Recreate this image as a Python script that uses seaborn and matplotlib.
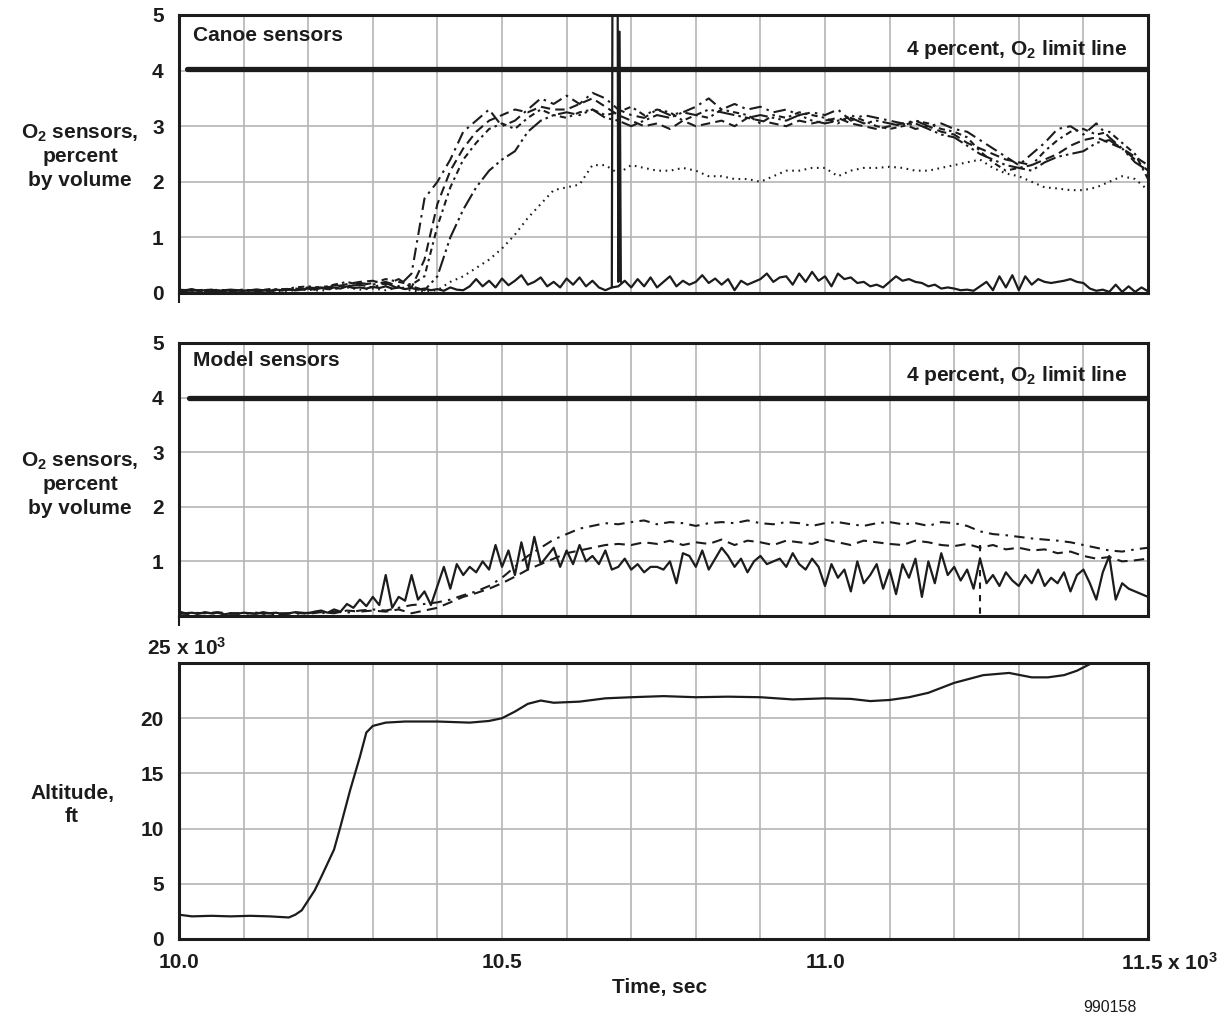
import numpy as np
import matplotlib
matplotlib.use("Agg")
import matplotlib.pyplot as plt
from matplotlib.ticker import MultipleLocator
import seaborn as sns

# ---------------- data ----------------
t_fine = np.round(np.arange(10.0, 11.5001, 0.01), 2)     # sample times (x 10^3 sec)
t_coarse = np.round(np.arange(10.0, 11.5001, 0.02), 2)

canoe_solid = [
    0.06, 0.05, 0.07, 0.04, 0.05, 0.06, 0.04, 0.05, 0.06, 0.05,
    0.04, 0.05, 0.06, 0.05, 0.04, 0.06, 0.05, 0.07, 0.05, 0.06,
    0.08, 0.06, 0.09, 0.07, 0.10, 0.08, 0.12, 0.09, 0.10, 0.08,
    0.11, 0.09, 0.12, 0.08, 0.10, 0.07, 0.09, 0.06, 0.08, 0.05,
    0.07, 0.04, 0.10, 0.06, 0.05, 0.12, 0.25, 0.12, 0.22, 0.10,
    0.26, 0.14, 0.22, 0.32, 0.15, 0.20, 0.28, 0.12, 0.20, 0.10,
    0.26, 0.15, 0.28, 0.12, 0.22, 0.10, 0.05, 0.10, 0.12, 0.22,
    0.10, 0.25, 0.12, 0.28, 0.10, 0.20, 0.30, 0.12, 0.22, 0.15,
    0.20, 0.32, 0.18, 0.26, 0.15, 0.25, 0.05, 0.22, 0.15, 0.20,
    0.25, 0.35, 0.20, 0.28, 0.30, 0.15, 0.35, 0.20, 0.38, 0.22,
    0.30, 0.12, 0.35, 0.25, 0.28, 0.18, 0.20, 0.12, 0.15, 0.10,
    0.20, 0.30, 0.22, 0.25, 0.20, 0.18, 0.12, 0.15, 0.08, 0.10,
    0.08, 0.05, 0.06, 0.04, 0.12, 0.20, 0.05, 0.30, 0.10, 0.32,
    0.05, 0.30, 0.15, 0.25, 0.20, 0.18, 0.20, 0.22, 0.25, 0.20,
    0.18, 0.08, 0.04, 0.06, 0.02, 0.15, 0.02, 0.12, 0.02, 0.10,
    0.03]
canoe_spike_t = [10.670, 10.671, 10.679, 10.680, 10.682, 10.684]
canoe_spike_v = [0.10, 5.60, 5.60, 0.20, 4.70, 0.20]

canoe_a = [
    0.04, 0.05, 0.03, 0.06, 0.04, 0.05, 0.03, 0.06, 0.05, 0.07,
    0.10, 0.08, 0.14, 0.12, 0.18, 0.15, 0.20, 0.12, 0.35, 1.70,
    2.00, 2.40, 2.90, 3.10, 3.30, 3.00, 3.10, 3.30, 3.50, 3.40,
    3.55, 3.40, 3.60, 3.50, 3.30, 3.20, 3.15, 3.30, 3.20, 3.25,
    3.35, 3.50, 3.30, 3.40, 3.30, 3.35, 3.25, 3.30, 3.20, 3.25,
    3.20, 3.30, 3.10, 3.20, 3.15, 3.10, 3.05, 3.10, 3.00, 3.05,
    2.95, 2.90, 2.75, 2.60, 2.45, 2.30, 2.50, 2.70, 2.95, 3.00,
    2.85, 3.05, 2.80, 2.60, 2.40, 2.20]
canoe_b = [
    0.03, 0.05, 0.04, 0.03, 0.05, 0.04, 0.06, 0.04, 0.05, 0.08,
    0.06, 0.12, 0.10, 0.16, 0.20, 0.22, 0.15, 0.25, 0.10, 0.60,
    1.60, 2.20, 2.60, 2.90, 3.10, 3.20, 3.30, 3.25, 3.35, 3.30,
    3.30, 3.40, 3.50, 3.35, 3.20, 3.10, 3.00, 3.05, 2.95, 3.10,
    3.00, 3.05, 3.10, 3.00, 3.15, 3.10, 3.05, 3.00, 3.10, 3.05,
    3.10, 3.15, 3.05, 3.00, 2.95, 3.00, 3.05, 2.95, 3.00, 2.90,
    2.85, 2.70, 2.60, 2.50, 2.40, 2.35, 2.30, 2.40, 2.50, 2.65,
    2.75, 2.80, 2.70, 2.60, 2.45, 2.30]
canoe_c = [
    0.05, 0.04, 0.06, 0.03, 0.05, 0.06, 0.04, 0.05, 0.07, 0.05,
    0.08, 0.10, 0.07, 0.12, 0.15, 0.10, 0.18, 0.08, 0.12, 0.05,
    0.30, 1.00, 1.50, 1.90, 2.20, 2.40, 2.55, 2.90, 3.10, 3.20,
    3.25, 3.20, 3.30, 3.15, 3.10, 3.00, 3.10, 3.20, 3.15, 3.25,
    3.20, 3.30, 3.25, 3.20, 3.15, 3.20, 3.15, 3.10, 3.20, 3.10,
    3.05, 3.10, 3.15, 3.05, 3.10, 3.05, 3.00, 3.05, 2.95, 2.85,
    2.80, 2.65, 2.50, 2.40, 2.30, 2.25, 2.20, 2.35, 2.45, 2.50,
    2.55, 2.70, 2.75, 2.60, 2.35, 2.20]
canoe_d = [
    0.05, 0.06, 0.04, 0.05, 0.03, 0.05, 0.04, 0.07, 0.06, 0.10,
    0.12, 0.09, 0.15, 0.20, 0.14, 0.18, 0.25, 0.20, 0.15, 0.30,
    1.20, 1.90, 2.40, 2.70, 2.95, 3.05, 2.95, 3.15, 3.30, 3.20,
    3.15, 3.25, 3.30, 3.20, 3.25, 3.35, 3.20, 3.30, 3.25, 3.10,
    3.20, 3.15, 3.30, 3.25, 3.20, 3.05, 3.20, 3.15, 3.25, 3.20,
    3.15, 3.05, 3.20, 3.10, 3.00, 2.95, 3.00, 3.10, 3.05, 2.95,
    2.90, 2.80, 2.55, 2.35, 2.20, 2.25, 2.30, 2.55, 2.75, 2.90,
    2.95, 2.85, 2.90, 2.70, 2.50, 2.05]
canoe_dotted = [
    0.03, 0.02, 0.04, 0.03, 0.02, 0.03, 0.02, 0.04, 0.03, 0.05,
    0.06, 0.04, 0.08, 0.10, 0.06, 0.08, 0.05, 0.10, 0.04, 0.03,
    0.05, 0.20, 0.30, 0.45, 0.60, 0.80, 1.05, 1.35, 1.60, 1.85,
    1.90, 1.95, 2.30, 2.30, 2.15, 2.30, 2.25, 2.20, 2.20, 2.25,
    2.20, 2.10, 2.10, 2.05, 2.05, 2.00, 2.10, 2.20, 2.20, 2.25,
    2.25, 2.10, 2.20, 2.25, 2.25, 2.27, 2.25, 2.20, 2.20, 2.25,
    2.30, 2.35, 2.40, 2.25, 2.15, 2.10, 2.00, 1.90, 1.88, 1.85,
    1.85, 1.90, 2.00, 2.10, 2.05, 1.85]

model_solid = [
    0.08, 0.05, 0.06, 0.04, 0.07, 0.05, 0.06, 0.03, 0.05, 0.04,
    0.06, 0.05, 0.04, 0.07, 0.05, 0.06, 0.04, 0.05, 0.07, 0.06,
    0.05, 0.08, 0.10, 0.06, 0.12, 0.08, 0.22, 0.15, 0.30, 0.18,
    0.35, 0.20, 0.75, 0.15, 0.35, 0.28, 0.75, 0.30, 0.45, 0.20,
    0.55, 0.90, 0.50, 0.95, 0.75, 0.90, 0.80, 1.00, 0.85, 1.30,
    0.90, 1.20, 0.75, 1.35, 0.85, 1.45, 0.95, 1.10, 1.25, 0.90,
    1.20, 0.95, 1.30, 1.00, 1.10, 0.95, 1.20, 0.85, 0.90, 1.05,
    0.85, 0.95, 0.80, 0.90, 0.90, 0.85, 1.00, 0.60, 1.15, 1.10,
    0.90, 1.20, 0.85, 1.05, 1.25, 1.10, 0.90, 1.05, 0.80, 1.00,
    1.10, 0.95, 1.00, 1.05, 0.90, 1.15, 0.95, 0.85, 1.05, 0.90,
    0.55, 0.95, 0.70, 0.85, 0.45, 1.00, 0.60, 0.75, 0.95, 0.50,
    0.85, 0.40, 0.95, 0.70, 1.05, 0.35, 1.00, 0.60, 1.15, 0.75,
    0.90, 0.65, 0.85, 0.50, 1.05, 0.60, 0.75, 0.55, 0.80, 0.65,
    0.55, 0.75, 0.60, 0.85, 0.55, 0.70, 0.60, 0.80, 0.45, 0.75,
    0.85, 0.60, 0.30, 0.80, 1.10, 0.30, 0.60, 0.50, 0.45, 0.40,
    0.35]
model_dashdot = [
    0.05, 0.03, 0.06, 0.04, 0.05, 0.04, 0.06, 0.03, 0.05, 0.04,
    0.06, 0.05, 0.08, 0.06, 0.10, 0.12, 0.10, 0.15, 0.20, 0.22,
    0.25, 0.30, 0.38, 0.45, 0.55, 0.70, 0.90, 1.10, 1.25, 1.40,
    1.50, 1.60, 1.65, 1.70, 1.68, 1.72, 1.75, 1.68, 1.72, 1.70,
    1.65, 1.70, 1.72, 1.70, 1.75, 1.70, 1.68, 1.72, 1.70, 1.65,
    1.70, 1.72, 1.68, 1.65, 1.70, 1.72, 1.68, 1.70, 1.65, 1.72,
    1.70, 1.65, 1.55, 1.50, 1.48, 1.45, 1.42, 1.40, 1.38, 1.35,
    1.30, 1.25, 1.20, 1.18, 1.22, 1.25]
model_dashed = [
    0.04, 0.06, 0.05, 0.07, 0.04, 0.06, 0.04, 0.05, 0.03, 0.06,
    0.04, 0.07, 0.05, 0.10, 0.08, 0.10, 0.08, 0.12, 0.05, 0.10,
    0.15, 0.25, 0.35, 0.42, 0.50, 0.60, 0.72, 0.85, 0.95, 1.05,
    1.15, 1.20, 1.25, 1.30, 1.32, 1.30, 1.35, 1.32, 1.38, 1.30,
    1.35, 1.32, 1.40, 1.30, 1.38, 1.35, 1.30, 1.38, 1.35, 1.32,
    1.40, 1.35, 1.30, 1.38, 1.35, 1.32, 1.30, 1.38, 1.35, 1.30,
    1.28, 1.32, 1.25, 1.30, 1.22, 1.25, 1.20, 1.22, 1.15, 1.18,
    1.10, 1.05, 1.08, 1.00, 1.02, 1.05]
model_drop_t = [11.24, 11.24]
model_drop_v = [1.30, -0.10]

alt_t = [10.00, 10.02, 10.05, 10.08, 10.11, 10.14, 10.17, 10.18, 10.19, 10.20,
         10.21, 10.22, 10.24, 10.25, 10.265, 10.28, 10.29, 10.30, 10.32, 10.35,
         10.40, 10.45, 10.48, 10.50, 10.52, 10.54, 10.56, 10.58, 10.62, 10.66,
         10.70, 10.75, 10.80, 10.85, 10.90, 10.95, 11.00, 11.04, 11.07, 11.10,
         11.13, 11.16, 11.20, 11.245, 11.285, 11.32, 11.345, 11.37, 11.39, 11.41,
         11.43, 11.46]
alt_kft = [2.2, 2.05, 2.1, 2.05, 2.1, 2.05, 1.95, 2.2, 2.6, 3.5,
           4.4, 5.6, 8.1, 10.2, 13.5, 16.5, 18.7, 19.3, 19.6, 19.7,
           19.7, 19.6, 19.75, 20.0, 20.6, 21.3, 21.6, 21.4, 21.5, 21.8,
           21.9, 22.0, 21.9, 21.95, 21.9, 21.7, 21.8, 21.75, 21.55, 21.65,
           21.9, 22.3, 23.2, 23.9, 24.1, 23.7, 23.7, 23.9, 24.3, 24.9,
           25.6, 26.5]

# ---------------- style ----------------
sns.set_style("white")
plt.rcParams['font.family'] = ['Liberation Sans', 'DejaVu Sans']
plt.rcParams['font.weight'] = 'bold'
plt.rcParams['mathtext.fontset'] = 'custom'
plt.rcParams['mathtext.rm'] = 'Liberation Sans:bold'
plt.rcParams['mathtext.bf'] = 'Liberation Sans:bold'
plt.rcParams['mathtext.it'] = 'Liberation Sans:bold'

INK = '#1c1c1c'
GRID = '#b5b5b5'
FS = 15

W, H = 1231, 1017
fig = plt.figure(figsize=(W / 100, H / 100), dpi=100)


def add_ax(top_px, bot_px, left_px=179, right_px=1148):
    return fig.add_axes([left_px / W, 1 - bot_px / H,
                         (right_px - left_px) / W, (bot_px - top_px) / H])


ax1 = add_ax(15, 293)
ax2 = add_ax(343, 616)
ax3 = add_ax(663, 939)


def line(ax, x, y, ls='-', lw=1.5):
    sns.lineplot(x=list(x), y=list(y), ax=ax, color=INK, linestyle=ls,
                 linewidth=lw, estimator=None, sort=False, legend=False)


def frame(ax, ymax, ystep, yticklabels_vals):
    ax.set_xlim(10.0, 11.5)
    ax.set_ylim(0, ymax)
    ax.xaxis.set_minor_locator(MultipleLocator(0.1))
    ax.yaxis.set_major_locator(MultipleLocator(ystep))
    ax.grid(True, which='both', axis='x', color=GRID, linewidth=1.2)
    ax.grid(True, which='major', axis='y', color=GRID, linewidth=1.2)
    ax.set_axisbelow(True)
    for s in ax.spines.values():
        s.set_visible(True)
        s.set_linewidth(2.2)
        s.set_color(INK)
    ax.tick_params(axis='y', length=0, pad=11, labelsize=FS, colors=INK)
    ax.tick_params(axis='x', which='minor', length=0)
    ax.set_yticks(np.arange(0, ymax + 0.001, ystep))
    ax.set_yticklabels([str(int(v)) if v in yticklabels_vals else ''
                        for v in np.arange(0, ymax + 0.001, ystep)],
                       fontweight='bold')
    ax.set_xlabel('')
    ax.set_ylabel('')


# ---- top: canoe sensors ----
line(ax1, [10.012, 11.5], [4.03, 4.03], lw=3.8)
line(ax1, t_coarse, canoe_dotted, ls=(0, (0.8, 2.2)), lw=1.5)
line(ax1, t_coarse, canoe_a, ls=(0, (6, 2.5, 1.2, 2.5)))
line(ax1, t_coarse, canoe_b, ls=(0, (4.5, 2.5)))
line(ax1, t_coarse, canoe_c, ls=(0, (8, 2, 1.2, 2, 1.2, 2)))
line(ax1, t_coarse, canoe_d, ls=(0, (3, 2, 1.2, 2)))
line(ax1, t_fine, canoe_solid, lw=1.6)
line(ax1, canoe_spike_t, canoe_spike_v, lw=1.6)
frame(ax1, 5, 1, [0, 1, 2, 3, 4, 5])
ax1.set_xticks([10.0])
ax1.set_xticklabels([''])
ax1.tick_params(axis='x', which='major', bottom=True, length=7, width=1.5,
                color=INK, direction='out')
ax1.text(0.014, 0.925, 'Canoe sensors', transform=ax1.transAxes, fontsize=FS,
         fontweight='bold', color=INK, va='center', ha='left')
ax1.text(0.979, 0.856, r'4 percent, O$_2$ limit line', transform=ax1.transAxes,
         fontsize=FS, fontweight='bold', color=INK, va='baseline', ha='right')

# ---- middle: model sensors ----
line(ax2, [10.016, 11.5], [4.0, 4.0], lw=3.8)
line(ax2, t_coarse, model_dashdot, ls=(0, (5, 3, 1.2, 3)))
line(ax2, t_coarse, model_dashed, ls=(0, (5, 3)))
line(ax2, model_drop_t, model_drop_v, ls=(0, (3, 3)))
line(ax2, t_fine, model_solid, lw=1.6)
frame(ax2, 5, 1, [1, 2, 3, 4, 5])
ax2.set_xticks([10.0])
ax2.set_xticklabels([''])
ax2.tick_params(axis='x', which='major', bottom=True, length=7, width=1.5,
                color=INK, direction='out')
ax2.text(0.014, 0.935, 'Model sensors', transform=ax2.transAxes, fontsize=FS,
         fontweight='bold', color=INK, va='center', ha='left')
ax2.text(0.979, 0.861, r'4 percent, O$_2$ limit line', transform=ax2.transAxes,
         fontsize=FS, fontweight='bold', color=INK, va='baseline', ha='right')

# ---- bottom: altitude ----
line(ax3, alt_t, alt_kft, lw=1.6)
frame(ax3, 25, 5, [0, 5, 10, 15, 20])
ax3.set_xticks([10.0, 10.5, 11.0, 11.5])
ax3.set_xticklabels(['10.0', '10.5', '11.0', ''], fontweight='bold')
ax3.tick_params(axis='x', which='major', length=0, pad=10, labelsize=FS,
                colors=INK)

# ---- figure texts ----
def ftext(xp, yp, s, **kw):
    kw.setdefault('fontsize', FS)
    kw.setdefault('fontweight', 'bold')
    kw.setdefault('color', INK)
    kw.setdefault('ha', 'center')
    kw.setdefault('va', 'center')
    fig.text(xp / W, 1 - yp / H, s, **kw)


for y0 in (133, 461):
    ftext(80, y0, r'O$_2$ sensors,')
    ftext(80, y0 + 24, 'percent')
    ftext(80, y0 + 47, 'by volume')
ftext(72, 793, 'Altitude,')
ftext(72, 816, 'ft')
ftext(147, 648, r'25 x 10$^3$', ha='left')
ftext(1121, 963, r'11.5 x 10$^3$', ha='left')
ftext(660, 988, 'Time, sec')
ftext(1110, 1007, '990158', fontsize=11.5, fontweight='normal')

fig.savefig('out.png', dpi=100)
